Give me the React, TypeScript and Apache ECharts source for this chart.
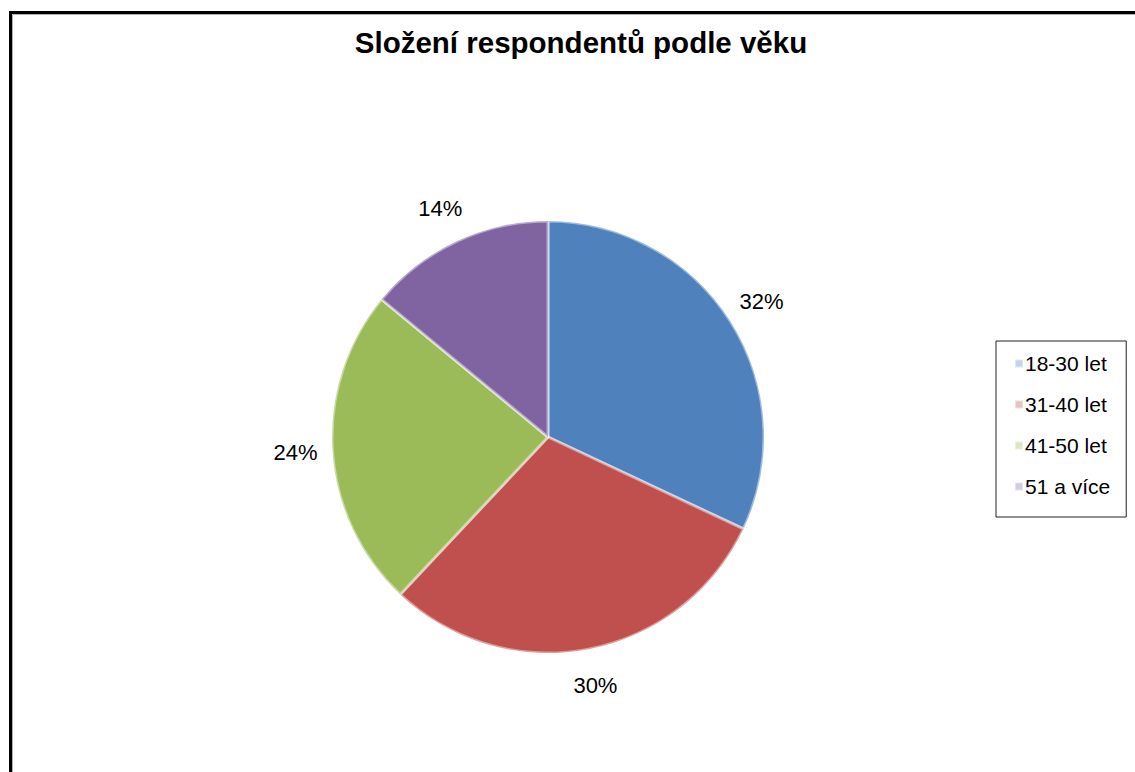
import React, { useEffect, useRef } from "react";
import * as echarts from "echarts";

const categories = ["18-30 let", "31-40 let", "41-50 let", "51 a více"];
const values = [32, 30, 24, 14];
const sliceColors = ["#4F81BD", "#C0504D", "#9BBB59", "#8064A2"];
const legendColors = ["#c3d3e9", "#e9c3c2", "#dde7c6", "#d3cbe1"];
const titleText = "Složení respondentů podle věku";

const FONT = "'Liberation Sans', Arial, sans-serif";

export default function App() {
  const ref = useRef<HTMLDivElement>(null);
  useEffect(() => {
    if (!ref.current) return;
    const chart = echarts.init(ref.current, undefined, { renderer: "svg" });
    const data = categories.map((name, i) => ({
      name,
      value: values[i],
      itemStyle: { color: sliceColors[i] },
    }));
    chart.setOption({
      animation: false,
      backgroundColor: "#ffffff",
      title: {
        text: titleText,
        left: 576,
        top: 22,
        textAlign: "center",
        textStyle: { fontFamily: FONT, fontSize: 29.5, fontWeight: "bold", color: "#000" },
      },
      legend: {
        orient: "vertical",
        left: 996,
        top: 341,
        padding: [12, 16, 20, 18],
        itemGap: 20,
        itemWidth: 8,
        itemHeight: 8,
        icon: "rect",
        borderColor: "#222",
        borderWidth: 1,
        selectedMode: false,
        textStyle: { fontFamily: FONT, fontSize: 21, color: "#000", padding: [0, 0, 0, -3] },
        data: categories.map((name, i) => ({ name, itemStyle: { color: legendColors[i] } })),
      },
      graphic: [
        {
          type: "rect",
          shape: { x: 10.5, y: 12.5, width: 1200, height: 800 },
          style: { fill: "none", stroke: "#000", lineWidth: 3 },
          silent: true,
        },
        {
          type: "rect",
          shape: { x: 12.5, y: 14.5, width: 1200, height: 800 },
          style: { fill: "none", stroke: "#b0b0b0", lineWidth: 1 },
          silent: true,
        },
      ],
      series: [
        {
          type: "pie",
          center: [548, 437],
          radius: 216,
          startAngle: 90,
          clockwise: true,
          label: { show: false },
          labelLine: { show: false },
          emphasis: { disabled: true },
          itemStyle: { borderColor: "rgba(255,255,255,0.45)", borderWidth: 3 },
          data,
        },
        {
          type: "pie",
          center: [548, 437],
          radius: [240, 260],
          startAngle: 90,
          clockwise: true,
          silent: true,
          emphasis: { disabled: true },
          itemStyle: { color: "rgba(0,0,0,0)" },
          labelLine: { show: false },
          label: {
            show: true,
            position: "inside",
            fontFamily: FONT,
            fontSize: 22,
            color: "#000",
            formatter: (p: any) => Math.round(p.percent) + "%",
          },
          data: categories.map((name, i) => ({ name, value: values[i] })),
        },
      ],
    });
    return () => chart.dispose();
  }, []);
  return (
    <div
      ref={ref}
      style={{ position: "absolute", left: 0, top: 0, width: 1135, height: 772 }}
    />
  );
}
